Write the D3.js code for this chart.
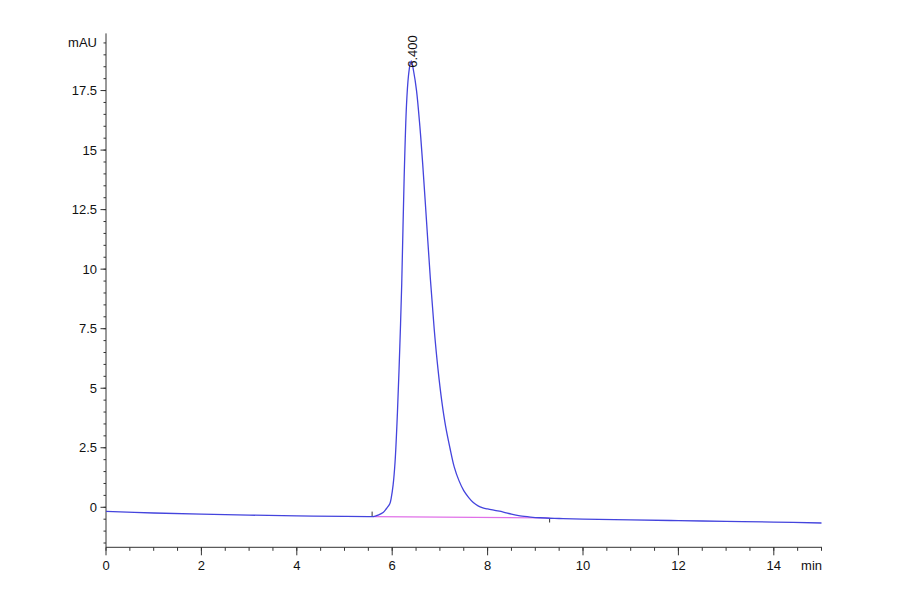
<!DOCTYPE html>
<html><head><meta charset="utf-8">
<script src="https://cdn.jsdelivr.net/npm/d3@7"></script>
<style>
html,body{margin:0;padding:0;background:#fff;}
svg{display:block;}
text{font-family:"Liberation Sans Narrow","Arial Narrow","Liberation Sans",Arial,sans-serif;fill:#111;}
</style></head>
<body>
<svg id="chart" width="900" height="594"></svg>
<script>
// retention time (min)
const times = [0,1,2,3,4,5,5.5,5.6,5.7,5.81,5.88,5.95,5.98,6.02,6.06,6.11,6.16,6.2,6.25,6.3,6.34,6.38,6.4,6.45,6.51,6.58,6.64,6.72,6.8,6.88,6.96,7.04,7.12,7.21,7.3,7.4,7.5,7.6,7.7,7.8,7.9,8.0,8.15,8.33,8.5,8.68,8.9,9.1,9.5,10,11,12,13,14,15];
// absorbance (mAU)
const signal = [-0.17,-0.24,-0.29,-0.33,-0.36,-0.38,-0.39,-0.39,-0.33,-0.22,-0.05,0.15,0.4,0.95,1.9,3.99,6.77,9.4,13.8,16.9,18.1,18.65,18.75,18.3,17.5,16.0,14.4,12.0,9.6,7.5,5.8,4.45,3.4,2.5,1.7,1.12,0.7,0.42,0.2,0.06,-0.02,-0.07,-0.13,-0.2,-0.29,-0.36,-0.41,-0.44,-0.47,-0.50,-0.53,-0.56,-0.59,-0.62,-0.66];
// integration baseline (start/end)
const baseTimes = [5.6, 9.3];
const baseValues = [-0.39, -0.45];
// peak
const peakTime = 6.400;
const peakValue = 18.75;
// ticks
const xMajorTicks = [0,2,4,6,8,10,12,14];
const yMajorTicks = [0,2.5,5,7.5,10,12.5,15,17.5];
const xUnit = "min";
const yUnit = "mAU";

const svg = d3.select("#chart");
const x = d3.scaleLinear().domain([0,15]).range([106,821.5]);
const y = d3.scaleLinear().domain([-1.68,19.9]).range([547.3,33.4]);

const axisColor = "#333";
svg.append("line").attr("x1",x(0)).attr("x2",x(0)).attr("y1",y(19.9)).attr("y2",y(-1.68))
  .attr("stroke",axisColor).attr("stroke-width",1);
svg.append("line").attr("x1",x(0)).attr("x2",x(15)+0.5).attr("y1",y(-1.68)).attr("y2",y(-1.68))
  .attr("stroke",axisColor).attr("stroke-width",1);

const yMinor = d3.range(-1.5, 19.51, 0.5);
svg.append("g").selectAll("line").data(yMinor).join("line")
  .attr("x1",x(0)-2.5).attr("x2",x(0)).attr("y1",d=>y(d)).attr("y2",d=>y(d))
  .attr("stroke",axisColor).attr("stroke-width",1);
svg.append("g").selectAll("line").data(yMajorTicks).join("line")
  .attr("x1",x(0)-5.5).attr("x2",x(0)).attr("y1",d=>y(d)).attr("y2",d=>y(d))
  .attr("stroke",axisColor).attr("stroke-width",1);
svg.append("g").selectAll("text").data(yMajorTicks).join("text")
  .attr("x",97).attr("y",d=>y(d)).attr("dy","0.35em").attr("text-anchor","end")
  .attr("font-size",13).text(d=>d3.format("~g")(d));
svg.append("text").attr("x",97).attr("y",y(19.5)).attr("dy","0.35em").attr("text-anchor","end")
  .attr("font-size",13).text(yUnit);

const xMinor = d3.range(0, 15.01, 0.5);
svg.append("g").selectAll("line").data(xMinor).join("line")
  .attr("x1",d=>x(d)).attr("x2",d=>x(d)).attr("y1",y(-1.68)).attr("y2",y(-1.68)+3.5)
  .attr("stroke",axisColor).attr("stroke-width",1);
svg.append("g").selectAll("line").data(xMajorTicks).join("line")
  .attr("x1",d=>x(d)).attr("x2",d=>x(d)).attr("y1",y(-1.68)).attr("y2",y(-1.68)+8)
  .attr("stroke",axisColor).attr("stroke-width",1);
svg.append("g").selectAll("text").data(xMajorTicks).join("text")
  .attr("x",d=>x(d)).attr("y",570).attr("text-anchor","middle")
  .attr("font-size",13).text(d=>d);
svg.append("text").attr("x",822).attr("y",570).attr("text-anchor","end")
  .attr("font-size",13).text(xUnit);

// integration baseline
svg.append("line").attr("x1",x(baseTimes[0])).attr("x2",x(baseTimes[1]))
  .attr("y1",y(baseValues[0])).attr("y2",y(baseValues[1]))
  .attr("stroke","#e070e8").attr("stroke-width",1.2);
svg.append("line").attr("x1",x(baseTimes[0])-1).attr("x2",x(baseTimes[0])-1)
  .attr("y1",y(baseValues[0])-5).attr("y2",y(baseValues[0]))
  .attr("stroke","#333").attr("stroke-width",1);
svg.append("line").attr("x1",x(baseTimes[1])).attr("x2",x(baseTimes[1]))
  .attr("y1",y(baseValues[1])).attr("y2",y(baseValues[1])+4.5)
  .attr("stroke","#333").attr("stroke-width",1);

// trace
const pts = times.map((t,i)=>[t,signal[i]]);
const line = d3.line().x(d=>x(d[0])).y(d=>y(d[1])).curve(d3.curveCatmullRom.alpha(0.5));
svg.append("path").datum(pts).attr("d",line).attr("fill","none")
  .attr("stroke","#4444dd").attr("stroke-width",1.3);

// peak label
svg.append("text")
  .attr("transform",`translate(${x(peakTime)+1},${y(peakValue)+7}) rotate(-90)`)
  .attr("dy","0.35em").attr("font-size",13)
  .style("font-family","'Liberation Sans',Arial,sans-serif")
  .text(d3.format(".3f")(peakTime));
</script>
</body></html>
